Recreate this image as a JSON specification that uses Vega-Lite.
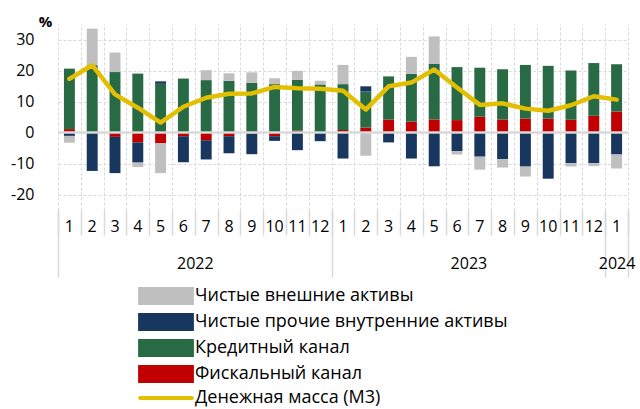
{
  "$schema": "https://vega.github.io/schema/vega-lite/v6.json",
  "width": 570,
  "height": 186,
  "autosize": {"type": "none"},
  "padding": {"left": 58, "top": 24, "right": 12, "bottom": 199},
  "config": {
    "view": {"stroke": null},
    "font": "Open Sans",
    "axis": {"labelColor": "#000000", "labelFont": "Open Sans"},
    "axisY": {"labelOverlap": false},
    "legend": {"labelFont": "Open Sans"}
  },
  "datasets": {
    "parts": [
      {"period": "2022-1", "series": "Фискальный канал", "value": 1.1},
      {"period": "2022-1", "series": "Кредитный канал", "value": 19.5},
      {"period": "2022-1", "series": "Чистые прочие внутренние активы", "value": -1.1},
      {"period": "2022-1", "series": "Чистые внешние активы", "value": -2.2},
      {"period": "2022-2", "series": "Фискальный канал", "value": 0},
      {"period": "2022-2", "series": "Кредитный канал", "value": 21.7},
      {"period": "2022-2", "series": "Чистые прочие внутренние активы", "value": -12.4},
      {"period": "2022-2", "series": "Чистые внешние активы", "value": 11.8},
      {"period": "2022-3", "series": "Фискальный канал", "value": -1.4},
      {"period": "2022-3", "series": "Кредитный канал", "value": 19.5},
      {"period": "2022-3", "series": "Чистые прочие внутренние активы", "value": -11.7},
      {"period": "2022-3", "series": "Чистые внешние активы", "value": 6.3},
      {"period": "2022-4", "series": "Фискальный канал", "value": -3.2},
      {"period": "2022-4", "series": "Кредитный канал", "value": 19.0},
      {"period": "2022-4", "series": "Чистые прочие внутренние активы", "value": -6.5},
      {"period": "2022-4", "series": "Чистые внешние активы", "value": -1.4},
      {"period": "2022-5", "series": "Фискальный канал", "value": -3.5},
      {"period": "2022-5", "series": "Кредитный канал", "value": 15.7},
      {"period": "2022-5", "series": "Чистые прочие внутренние активы", "value": 0.8},
      {"period": "2022-5", "series": "Чистые внешние активы", "value": -9.6},
      {"period": "2022-6", "series": "Фискальный канал", "value": -1.2},
      {"period": "2022-6", "series": "Кредитный канал", "value": 17.4},
      {"period": "2022-6", "series": "Чистые прочие внутренние активы", "value": -8.4},
      {"period": "2022-6", "series": "Чистые внешние активы", "value": 0},
      {"period": "2022-7", "series": "Фискальный канал", "value": -2.5},
      {"period": "2022-7", "series": "Кредитный канал", "value": 16.9},
      {"period": "2022-7", "series": "Чистые прочие внутренние активы", "value": -6.2},
      {"period": "2022-7", "series": "Чистые внешние активы", "value": 3.2},
      {"period": "2022-8", "series": "Фискальный канал", "value": -1.2},
      {"period": "2022-8", "series": "Кредитный канал", "value": 16.7},
      {"period": "2022-8", "series": "Чистые прочие внутренние активы", "value": -5.5},
      {"period": "2022-8", "series": "Чистые внешние активы", "value": 2.4},
      {"period": "2022-9", "series": "Фискальный канал", "value": -0.3},
      {"period": "2022-9", "series": "Кредитный канал", "value": 16.0},
      {"period": "2022-9", "series": "Чистые прочие внутренние активы", "value": -6.7},
      {"period": "2022-9", "series": "Чистые внешние активы", "value": 3.4},
      {"period": "2022-10", "series": "Фискальный канал", "value": -1.2},
      {"period": "2022-10", "series": "Кредитный канал", "value": 15.6},
      {"period": "2022-10", "series": "Чистые прочие внутренние активы", "value": -1.5},
      {"period": "2022-10", "series": "Чистые внешние активы", "value": 1.9},
      {"period": "2022-11", "series": "Фискальный канал", "value": 0.6},
      {"period": "2022-11", "series": "Кредитный канал", "value": 16.4},
      {"period": "2022-11", "series": "Чистые прочие внутренние активы", "value": -5.7},
      {"period": "2022-11", "series": "Чистые внешние активы", "value": 2.9},
      {"period": "2022-12", "series": "Фискальный канал", "value": 0},
      {"period": "2022-12", "series": "Кредитный канал", "value": 15.5},
      {"period": "2022-12", "series": "Чистые прочие внутренние активы", "value": -2.8},
      {"period": "2022-12", "series": "Чистые внешние активы", "value": 1.2},
      {"period": "2023-1", "series": "Фискальный канал", "value": 0.8},
      {"period": "2023-1", "series": "Кредитный канал", "value": 14.8},
      {"period": "2023-1", "series": "Чистые прочие внутренние активы", "value": -8.4},
      {"period": "2023-1", "series": "Чистые внешние активы", "value": 6.2},
      {"period": "2023-2", "series": "Фискальный канал", "value": 1.6},
      {"period": "2023-2", "series": "Кредитный канал", "value": 11.6},
      {"period": "2023-2", "series": "Чистые прочие внутренние активы", "value": 1.7},
      {"period": "2023-2", "series": "Чистые внешние активы", "value": -7.5},
      {"period": "2023-3", "series": "Фискальный канал", "value": 4.2},
      {"period": "2023-3", "series": "Кредитный канал", "value": 13.9},
      {"period": "2023-3", "series": "Чистые прочие внутренние активы", "value": -3.2},
      {"period": "2023-3", "series": "Чистые внешние активы", "value": 0},
      {"period": "2023-4", "series": "Фискальный канал", "value": 3.5},
      {"period": "2023-4", "series": "Кредитный канал", "value": 15.4},
      {"period": "2023-4", "series": "Чистые прочие внутренние активы", "value": -8.4},
      {"period": "2023-4", "series": "Чистые внешние активы", "value": 5.5},
      {"period": "2023-5", "series": "Фискальный канал", "value": 4.2},
      {"period": "2023-5", "series": "Кредитный канал", "value": 18.0},
      {"period": "2023-5", "series": "Чистые прочие внутренние активы", "value": -10.9},
      {"period": "2023-5", "series": "Чистые внешние активы", "value": 8.8},
      {"period": "2023-6", "series": "Фискальный канал", "value": 4.0},
      {"period": "2023-6", "series": "Кредитный канал", "value": 17.1},
      {"period": "2023-6", "series": "Чистые прочие внутренние активы", "value": -6.0},
      {"period": "2023-6", "series": "Чистые внешние активы", "value": -1.1},
      {"period": "2023-7", "series": "Фискальный канал", "value": 5.1},
      {"period": "2023-7", "series": "Кредитный канал", "value": 15.8},
      {"period": "2023-7", "series": "Чистые прочие внутренние активы", "value": -7.8},
      {"period": "2023-7", "series": "Чистые внешние активы", "value": -4.2},
      {"period": "2023-8", "series": "Фискальный канал", "value": 4.2},
      {"period": "2023-8", "series": "Кредитный канал", "value": 16.2},
      {"period": "2023-8", "series": "Чистые прочие внутренние активы", "value": -8.6},
      {"period": "2023-8", "series": "Чистые внешние активы", "value": -2.7},
      {"period": "2023-9", "series": "Фискальный канал", "value": 4.5},
      {"period": "2023-9", "series": "Кредитный канал", "value": 17.3},
      {"period": "2023-9", "series": "Чистые прочие внутренние активы", "value": -11.0},
      {"period": "2023-9", "series": "Чистые внешние активы", "value": -3.2},
      {"period": "2023-10", "series": "Фискальный канал", "value": 4.5},
      {"period": "2023-10", "series": "Кредитный канал", "value": 17.0},
      {"period": "2023-10", "series": "Чистые прочие внутренние активы", "value": -14.9},
      {"period": "2023-10", "series": "Чистые внешние активы", "value": 0},
      {"period": "2023-11", "series": "Фискальный канал", "value": 4.1},
      {"period": "2023-11", "series": "Кредитный канал", "value": 15.9},
      {"period": "2023-11", "series": "Чистые прочие внутренние активы", "value": -9.9},
      {"period": "2023-11", "series": "Чистые внешние активы", "value": -1.1},
      {"period": "2023-12", "series": "Фискальный канал", "value": 5.4},
      {"period": "2023-12", "series": "Кредитный канал", "value": 17.0},
      {"period": "2023-12", "series": "Чистые прочие внутренние активы", "value": -9.9},
      {"period": "2023-12", "series": "Чистые внешние активы", "value": -0.9},
      {"period": "2024-1", "series": "Фискальный канал", "value": 6.8},
      {"period": "2024-1", "series": "Кредитный канал", "value": 15.2},
      {"period": "2024-1", "series": "Чистые прочие внутренние активы", "value": -7.1},
      {"period": "2024-1", "series": "Чистые внешние активы", "value": -4.5}
    ],
    "m3": [
      {"period": "2022-1", "m3": 17.3},
      {"period": "2022-2", "m3": 21.7},
      {"period": "2022-3", "m3": 12.3},
      {"period": "2022-4", "m3": 8.0},
      {"period": "2022-5", "m3": 3.2},
      {"period": "2022-6", "m3": 8.3},
      {"period": "2022-7", "m3": 11.2},
      {"period": "2022-8", "m3": 12.5},
      {"period": "2022-9", "m3": 12.6},
      {"period": "2022-10", "m3": 14.7},
      {"period": "2022-11", "m3": 14.3},
      {"period": "2022-12", "m3": 14.1},
      {"period": "2023-1", "m3": 13.5},
      {"period": "2023-2", "m3": 7.4},
      {"period": "2023-3", "m3": 14.9},
      {"period": "2023-4", "m3": 16.1},
      {"period": "2023-5", "m3": 20.3},
      {"period": "2023-6", "m3": 14.5},
      {"period": "2023-7", "m3": 8.9},
      {"period": "2023-8", "m3": 9.4},
      {"period": "2023-9", "m3": 7.7},
      {"period": "2023-10", "m3": 7.0},
      {"period": "2023-11", "m3": 8.8},
      {"period": "2023-12", "m3": 11.7},
      {"period": "2024-1", "m3": 10.6}
    ],
    "edges": [{"p": 0}, {"p": 25}]
  },
  "layer": [
    {
      "layer": [
        {
          "data": {"name": "parts"},
          "transform": [
            {"calculate": "indexof(['Фискальный канал','Кредитный канал','Чистые прочие внутренние активы','Чистые внешние активы'], datum.series)", "as": "stackOrder"}
          ],
          "mark": {"type": "bar"},
          "encoding": {
            "x": {
              "field": "period", "type": "ordinal", "sort": null,
              "scale": {"paddingInner": 0.52, "paddingOuter": 0.26},
              "axis": {"orient": "bottom", "title": null, "labelExpr": "split(datum.value, '-')[1]", "labelAngle": 0, "ticks": false, "domain": false, "grid": false, "labelPadding": 8, "labelFontSize": 16}
            },
            "y": {
              "field": "value", "type": "quantitative", "stack": "zero",
              "scale": {"domain": [-25, 35], "nice": false},
              "axis": {"values": [-20, -10, 0, 10, 20, 30], "labelExpr": "replace(datum.label, '−', '-')", "labelOverlap": false, "grid": true, "gridColor": "#D9D9D9", "gridDash": [3, 2], "ticks": false, "domain": false, "labelFontSize": 16, "labelPadding": 24, "title": "%", "titleAngle": 0, "titleX": -13, "titleY": -3, "titleAlign": "center", "titleBaseline": "middle", "titleFontSize": 15, "titleFontWeight": "bold", "titleColor": "#000000"}
            },
            "color": {
              "field": "series", "type": "nominal",
              "scale": {
                "domain": ["Чистые внешние активы", "Чистые прочие внутренние активы", "Кредитный канал", "Фискальный канал", "Денежная масса (М3)"],
                "range": ["#BFBFBF", "#17375E", "#276A44", "#C00000", "#E2BF00"]
              },
              "legend": {
                "orient": "none", "legendX": 99, "legendY": 263, "title": null, "direction": "vertical",
                "symbolType": "M-3.7,-1H3.7V1H-3.7Z", "symbolSize": 196, "symbolStrokeWidth": 0,
                "labelFontSize": 18, "labelOffset": 20, "rowPadding": -4, "labelColor": "#000000", "labelLimit": 450,
                "encode": {
                  "symbols": {
                    "update": {
                      "shape": {"signal": "datum.value === 'Денежная масса (М3)' ? 'M-3.7,0H3.7' : 'M-3.7,-1H3.7V1H-3.7Z'"},
                      "fill": {"signal": "datum.value === 'Денежная масса (М3)' ? 'transparent' : scale('color', datum.value)"},
                      "stroke": {"signal": "datum.value === 'Денежная масса (М3)' ? '#E2BF00' : 'transparent'"},
                      "strokeWidth": {"value": 4},
                      "strokeCap": {"value": "round"},
                      "opacity": {"value": 1}
                    }
                  }
                }
              }
            },
            "order": {"field": "stackOrder", "type": "quantitative"}
          }
        },
        {
          "data": {"values": [{}]},
          "mark": {"type": "rule", "color": "#D9D9D9", "strokeWidth": 2.5},
          "encoding": {
            "y": {"datum": 0, "type": "quantitative",
              "axis": {"values": [-20, -10, 0, 10, 20, 30], "labelExpr": "replace(datum.label, '−', '-')", "labelOverlap": false, "grid": true, "gridColor": "#D9D9D9", "gridDash": [3, 2], "ticks": false, "domain": false, "labelFontSize": 16, "labelPadding": 24, "title": "%", "titleAngle": 0, "titleX": -13, "titleY": -3, "titleAlign": "center", "titleBaseline": "middle", "titleFontSize": 15, "titleFontWeight": "bold", "titleColor": "#000000"}
            }
          }
        },
        {
          "data": {"name": "m3"},
          "mark": {"type": "line", "strokeWidth": 4.5, "strokeCap": "round", "strokeJoin": "round"},
          "encoding": {
            "x": {"field": "period", "type": "ordinal", "sort": null},
            "y": {"field": "m3", "type": "quantitative",
              "axis": {"values": [-20, -10, 0, 10, 20, 30], "labelExpr": "replace(datum.label, '−', '-')", "labelOverlap": false, "grid": true, "gridColor": "#D9D9D9", "gridDash": [3, 2], "ticks": false, "domain": false, "labelFontSize": 16, "labelPadding": 24, "title": "%", "titleAngle": 0, "titleX": -13, "titleY": -3, "titleAlign": "center", "titleBaseline": "middle", "titleFontSize": 15, "titleFontWeight": "bold", "titleColor": "#000000"}
            },
            "color": {"datum": "Денежная масса (М3)"}
          }
        }
      ]
    },
    {
      "data": {"name": "edges"},
      "mark": {"type": "point", "opacity": 0},
      "encoding": {
        "x": {
          "field": "p", "type": "quantitative",
          "scale": {"domain": [0, 25], "nice": false, "zero": false},
          "axis": {"orient": "bottom", "offset": 0, "title": null, "values": [0,1,2,3,4,5,6,7,8,9,10,11,12,13,14,15,16,17,18,19,20,21,22,23,24,25], "labels": false, "domain": false, "ticks": true, "tickSize": 25, "tickColor": "#D9D9D9", "tickWidth": 1.5, "grid": true, "gridColor": "#D9D9D9", "gridDash": [3, 2]}
        }
      }
    },
    {
      "data": {"name": "edges"},
      "mark": {"type": "point", "opacity": 0},
      "encoding": {
        "x": {
          "field": "p", "type": "quantitative",
          "scale": {"domain": [0, 25], "nice": false, "zero": false},
          "axis": {"orient": "bottom", "offset": 0, "title": null, "values": [0, 12, 24, 25], "labels": false, "domain": false, "ticks": true, "tickSize": 67, "tickColor": "#D9D9D9", "tickWidth": 1.5, "grid": false}
        }
      }
    },
    {
      "data": {"name": "edges"},
      "mark": {"type": "point", "opacity": 0},
      "encoding": {
        "x": {
          "field": "p", "type": "quantitative",
          "scale": {"domain": [0, 25], "nice": false, "zero": false},
          "axis": {"orient": "bottom", "offset": 0, "title": null, "values": [6, 18, 24.5], "labelExpr": "datum.value == 6 ? '2022' : datum.value == 18 ? '2023' : '2024'", "labels": true, "labelFlush": false, "labelOverlap": false, "labelBound": false, "domain": false, "ticks": false, "grid": false, "labelPadding": 45, "labelFontSize": 16}
        }
      }
    }
  ],
  "resolve": {"scale": {"x": "independent"}, "axis": {"x": "independent"}}
}
